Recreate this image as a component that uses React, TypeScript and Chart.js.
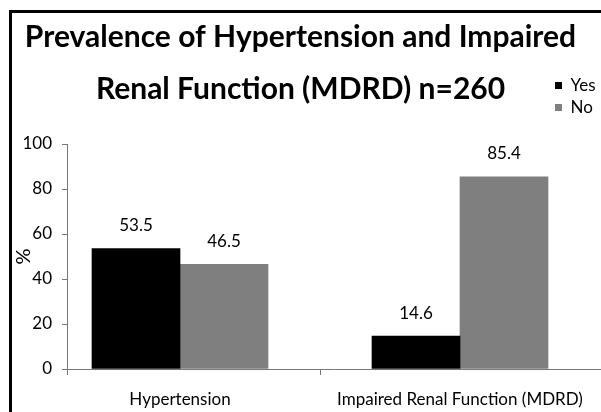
import React, { useEffect, useRef } from 'react';
import { Chart, registerables } from 'chart.js';

Chart.register(...registerables);

// ---- data ----
const categories = ['Hypertension', 'Impaired Renal Function (MDRD)'];
const seriesNames = ['Yes', 'No'];
const yesValues = [53.5, 14.6];
const noValues = [46.5, 85.4];
const yMin = 0;
const yMax = 100;
const yStep = 20;
const titleLines = ['Prevalence of Hypertension and Impaired', 'Renal Function (MDRD) n=260'];
const yAxisTitle = '%';

// ---- styling / layout ----
const FONT = "Lato, 'Noto Sans', sans-serif";
const AXIS_COLOR = '#777777';
const YES_COLOR = '#000000';
const NO_COLOR = '#7f7f7f';
// category positions on a linear index scale (1, 2), with the view window below
const catPos = categories.map((_, i) => i + 1);
const X_MIN = 0.5964;
const X_MAX = 2.5036;
const DIVIDER = 1.5;

const frame = {
  id: 'frame',
  beforeDraw(chart: any) {
    const { ctx } = chart;
    ctx.save();
    ctx.fillStyle = '#fff';
    ctx.fillRect(0, 0, chart.width, chart.height);
    // outer frame (left and top sides; the rest is cropped)
    ctx.fillStyle = '#000';
    ctx.fillRect(9, 10, chart.width - 9, 3);
    ctx.fillRect(9, 10, 3, chart.height - 10);
    ctx.restore();
  },
};

const valueLabels = {
  id: 'valueLabels',
  afterDatasetsDraw(chart: any) {
    const { ctx } = chart;
    ctx.save();
    ctx.font = `17px ${FONT}`;
    ctx.fillStyle = '#000';
    ctx.textAlign = 'center';
    ctx.textBaseline = 'middle';
    chart.data.datasets.forEach((ds: any, i: number) => {
      const meta = chart.getDatasetMeta(i);
      meta.data.forEach((el: any, j: number) => {
        const v = ds.data[j].y;
        ctx.fillText(v.toFixed(1), el.x, el.y - 23);
      });
    });
    ctx.restore();
  },
};

const legendPlacer = {
  id: 'legendPlacer',
  afterUpdate(chart: any) {
    const lg = chart.legend;
    if (!lg) return;
    lg.left = 550;
    lg.top = 72;
    lg.right = lg.left + lg.width;
    lg.bottom = lg.top + lg.height;
    lg.adjustHitBoxes();
  },
};

export default function App() {
  const ref = useRef<HTMLCanvasElement>(null);

  useEffect(() => {
    const chart = new Chart(ref.current as HTMLCanvasElement, {
      type: 'bar',
      data: {
        datasets: [
          {
            label: seriesNames[0],
            data: yesValues.map((v, i) => ({ x: catPos[i], y: v })),
            backgroundColor: YES_COLOR,
            borderWidth: 0,
          },
          {
            label: seriesNames[1],
            data: noValues.map((v, i) => ({ x: catPos[i], y: v })),
            backgroundColor: NO_COLOR,
            borderWidth: 0,
          },
        ],
      },
      options: {
        responsive: false,
        animation: false,
        barThickness: 88,
        layout: { padding: { left: 0, right: 0, top: 0, bottom: 0 } },
        plugins: {
          tooltip: { enabled: false },
          title: {
            display: true,
            text: titleLines,
            color: '#000',
            font: { family: FONT, size: 30, weight: 'bold', lineHeight: '52px' },
            padding: { top: 11, bottom: 29 },
          },
          legend: {
            display: true,
            position: 'chartArea',
            align: 'start',
            labels: {
              boxWidth: 7,
              boxHeight: 7,
              padding: 5,
              color: '#000',
              font: { family: FONT, size: 17 },
            },
          },
        },
        scales: {
          x: {
            type: 'linear',
            min: X_MIN,
            max: X_MAX,
            offset: false,
            grid: {
              offset: false,
              drawOnChartArea: false,
              drawTicks: true,
              tickLength: 6,
              color: (c: any) =>
                c.tick && (c.tick.value === DIVIDER || c.tick.value === X_MIN) ? AXIS_COLOR : 'rgba(0,0,0,0)',
            },
            border: { color: AXIS_COLOR, width: 1 },
            afterBuildTicks: (scale: any) => {
              scale.ticks = [X_MIN, catPos[0], DIVIDER, catPos[1]].map((v) => ({ value: v }));
            },
            afterFit: (scale: any) => {
              scale.height = 43;
            },
            ticks: {
              autoSkip: false,
              maxRotation: 0,
              minRotation: 0,
              padding: 14,
              color: '#000',
              font: { family: FONT, size: 17 },
              callback: (v: any) => {
                const idx = catPos.indexOf(v);
                return idx >= 0 ? categories[idx] : '';
              },
            },
          },
          y: {
            min: yMin,
            max: yMax,
            grid: {
              drawOnChartArea: false,
              drawTicks: true,
              tickLength: 5,
              color: AXIS_COLOR,
            },
            border: { color: AXIS_COLOR, width: 1 },
            afterFit: (scale: any) => {
              scale.width = 67;
            },
            ticks: {
              stepSize: yStep,
              padding: 10,
              color: '#000',
              font: { family: FONT, size: 17 },
            },
            title: {
              display: true,
              text: yAxisTitle,
              color: '#000',
              font: { family: FONT, size: 20 },
              padding: { top: 12, bottom: 0 },
            },
          },
        },
      } as any,
      plugins: [frame, valueLabels, legendPlacer],
    });
    return () => chart.destroy();
  }, []);

  return (
    <div
      style={{
        position: 'fixed',
        left: 0,
        top: 0,
        width: 601,
        height: 412,
        overflow: 'hidden',
        background: '#fff',
      }}
    >
      <canvas
        ref={ref}
        width={601}
        height={412}
        style={{ position: 'absolute', left: 0, top: 0, width: 601, height: 412 }}
      />
    </div>
  );
}
